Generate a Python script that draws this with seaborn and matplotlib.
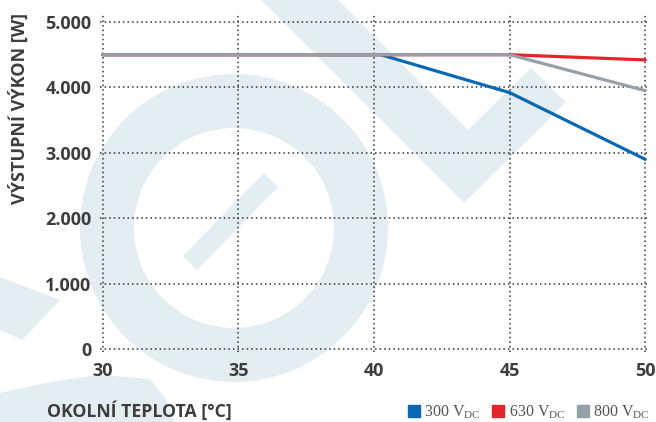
import numpy as np
import pandas as pd
import seaborn as sns
import matplotlib.pyplot as plt
from matplotlib.lines import Line2D
from matplotlib.patches import Polygon, Wedge
from matplotlib.ticker import FuncFormatter

# ---------------- Data ----------------
series = ["300 V$_{\\mathrm{DC}}$", "630 V$_{\\mathrm{DC}}$", "800 V$_{\\mathrm{DC}}$"]
temp_300 = [30, 40.25, 45, 50]
power_300 = [4500, 4500, 3920, 2900]
temp_630 = [30, 45, 50]
power_630 = [4500, 4500, 4420]
temp_800 = [30, 45, 50]
power_800 = [4500, 4500, 3950]
x_ticks = [30, 35, 40, 45, 50]
y_ticks = [0, 1000, 2000, 3000, 4000, 5000]
colors = ["#0a67b2", "#e5232a", "#97a0a7"]

df = pd.concat([
    pd.DataFrame({"temp": temp_300, "power": power_300, "series": series[0]}),
    pd.DataFrame({"temp": temp_630, "power": power_630, "series": series[1]}),
    pd.DataFrame({"temp": temp_800, "power": power_800, "series": series[2]}),
])
palette = dict(zip(series, colors))

# ---------------- Style ----------------
sns.set_style("white")
plt.rcParams["font.family"] = ["Open Sans", "DejaVu Sans"]
plt.rcParams["mathtext.fontset"] = "custom"
plt.rcParams["mathtext.rm"] = "Liberation Serif"
text_col = "#3d3d3d"
wm = "#e4edf2"

fig = plt.figure(figsize=(6.56, 4.22), dpi=100)
W, H = 656, 422

# ---------------- Watermark (pixel coords) ----------------
bg = fig.add_axes([0, 0, 1, 1], zorder=0)
bg.set_xlim(0, W)
bg.set_ylim(H, 0)
bg.axis("off")
bg.add_patch(Wedge((234, 228), 154, 0, 360, width=54, color=wm, lw=0))
bg.add_patch(Polygon([(197, 270), (183, 256), (264, 173), (278, 187)], color=wm, lw=0))
bg.add_patch(Polygon([(261, 0), (338, 0), (468, 130), (531, 68), (566, 102), (464, 203)],
                     color=wm, lw=0))
bg.add_patch(Polygon([(0, 277), (60, 300), (22, 340), (0, 330)], color=wm, lw=0))
bg.add_patch(Polygon([(0, 393), (50, 382), (100, 375), (150, 379), (165, 398), (175, 422), (0, 422)],
                     color=wm, lw=0))

# ---------------- Main axes ----------------
x0, x1 = 29.9, 50.1
y0, y1 = -50, 5112
px_x = (645.3 - 102.7) / 20
px_y = (349 - 22) / 5000
left = 102.7 - (30 - x0) * px_x
right = 645.3 + (x1 - 50) * px_x
bottom = 349 + (0 - y0) * px_y
top = 349 - y1 * px_y
ax = fig.add_axes([left / W, 1 - bottom / H, (right - left) / W, (bottom - top) / H], zorder=1)
ax.patch.set_alpha(0)

sns.lineplot(data=df, x="temp", y="power", hue="series", palette=palette,
             linewidth=2.3, legend=False, ax=ax, estimator=None, sort=False)

ax.set_xlim(x0, x1)
ax.set_ylim(y0, y1)
ax.set_xticks(x_ticks)
ax.set_yticks(y_ticks)
ax.yaxis.set_major_formatter(FuncFormatter(lambda v, p: f"{int(v):,}".replace(",", ".")))
ax.grid(True, linestyle=(0, (1, 2)), color="#333333", linewidth=1.1)
ax.set_axisbelow(True)
sns.despine(ax=ax, left=True, bottom=True)
ax.tick_params(axis="both", length=0, labelsize=13, labelcolor=text_col)
ax.tick_params(axis="x", pad=7)
ax.tick_params(axis="y", pad=6)
for lab in ax.get_xticklabels() + ax.get_yticklabels():
    lab.set_fontweight("bold")
ax.set_xlabel("")
ax.set_ylabel("")

fig.text(19 / W, 1 - 13 / H, "VÝSTUPNÍ VÝKON [W]", rotation=90, ha="center", va="top",
         fontsize=13, fontweight="bold", color=text_col)
fig.text(47 / W, 1 - 411 / H, "OKOLNÍ TEPLOTA [°C]", ha="left", va="center",
         fontsize=12.7, fontweight="bold", color=text_col)

handles = [Line2D([], [], marker="s", linestyle="none", markersize=8,
                  markerfacecolor=c, markeredgecolor=c) for c in colors]
leg = fig.legend(handles, series, loc="center right", bbox_to_anchor=(650 / W, 1 - 412 / H),
                 ncol=3, frameon=False, handlelength=0.6, handletextpad=0.35,
                 columnspacing=0.8, borderaxespad=0.0, borderpad=0.0,
                 prop={"family": "Liberation Serif", "size": 11.5})
for t in leg.get_texts():
    t.set_color("#555555")

fig.savefig("out.png", dpi=100)
